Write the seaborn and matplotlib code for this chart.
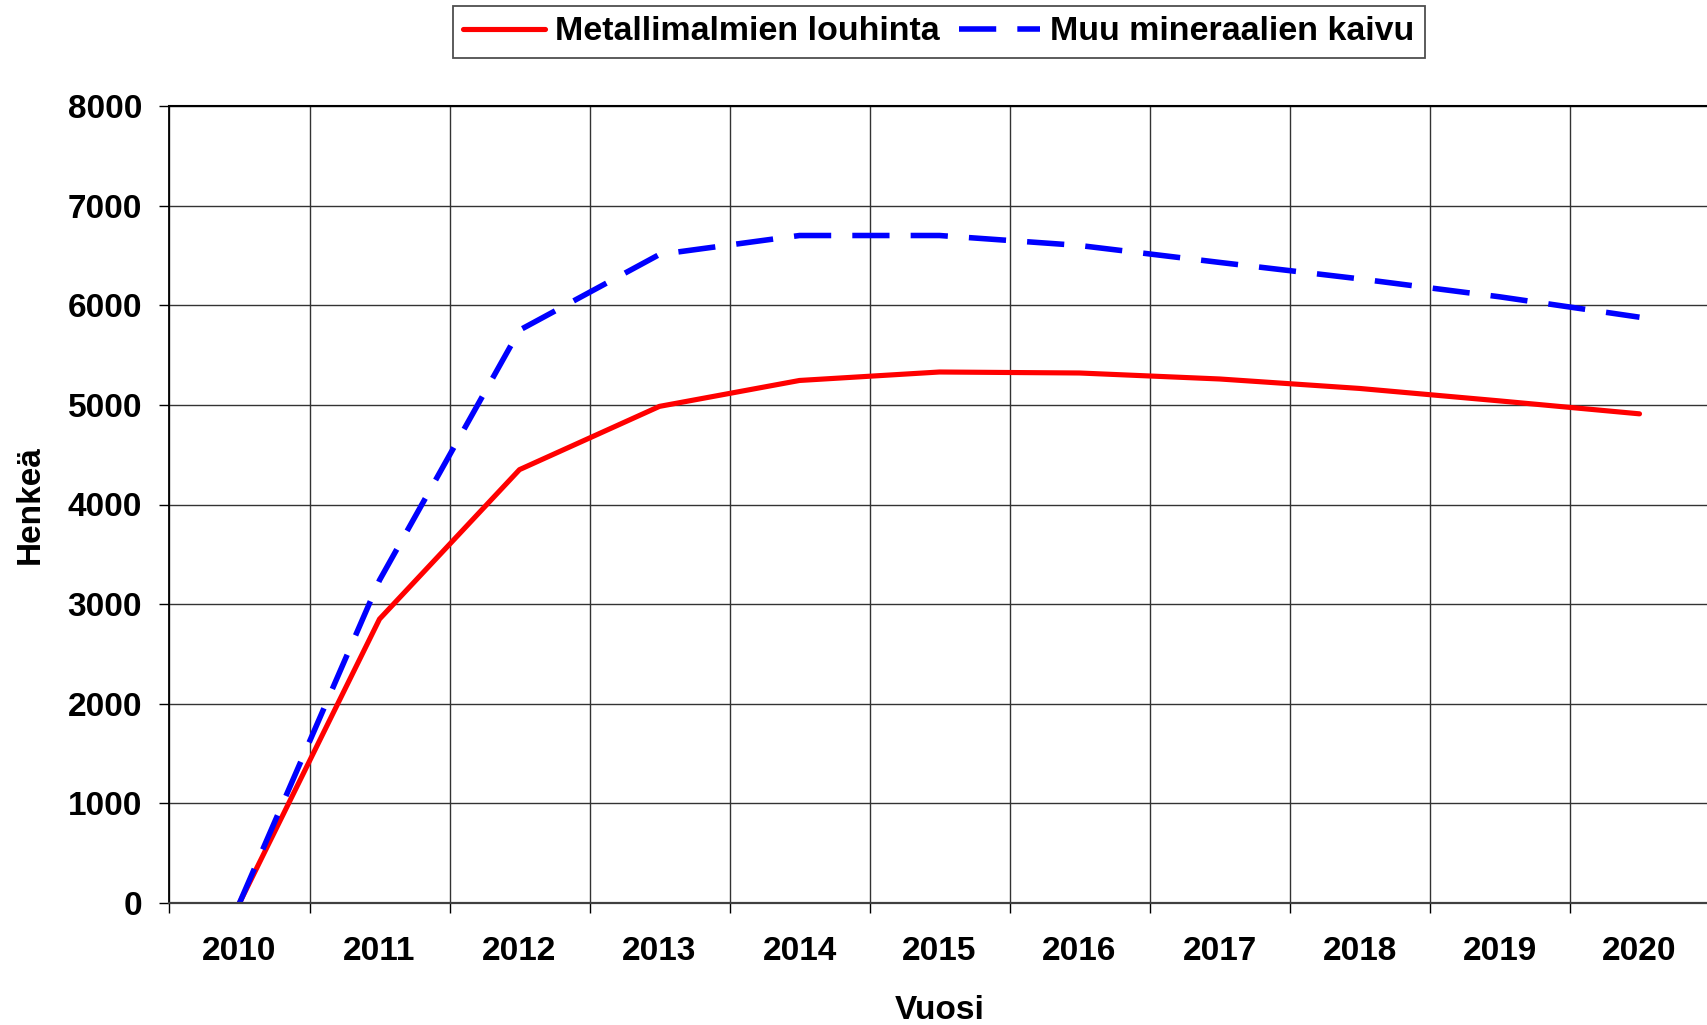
import numpy as np
import pandas as pd
import matplotlib
matplotlib.use("Agg")
import matplotlib.pyplot as plt
import seaborn as sns

# chart data
years = ["2010", "2011", "2012", "2013", "2014", "2015",
         "2016", "2017", "2018", "2019", "2020"]
metalli = [0, 2850, 4350, 4985, 5245, 5330, 5320, 5260, 5165, 5040, 4910]
muu = [0, 3240, 5750, 6510, 6700, 6700, 6600, 6430, 6265, 6085, 5880]
yticks = [0, 1000, 2000, 3000, 4000, 5000, 6000, 7000, 8000]

label_metalli = "Metallimalmien louhinta"
label_muu = "Muu mineraalien kaivu"

df = pd.DataFrame({"Vuosi": years, "metalli": metalli, "muu": muu})

sns.set_theme(style="white")
plt.rcParams["font.family"] = ["Liberation Sans", "DejaVu Sans"]
plt.rcParams["font.weight"] = "bold"
plt.rcParams["text.color"] = "black"
plt.rcParams["axes.labelcolor"] = "black"

W, H = 1708, 1025
fig = plt.figure(figsize=(W / 100, H / 100), dpi=100)
# axes placed in pixels: left 169.5, right 1709.5, y=0 at 903, y=8000 at 106
ax = fig.add_axes([169.5 / W, (H - 903) / H, 1540 / W, 797 / H])

sns.lineplot(data=df, x="Vuosi", y="metalli", ax=ax, color="#ff0000",
             linewidth=3.7, solid_capstyle="round", label=label_metalli)
sns.lineplot(data=df, x="Vuosi", y="muu", ax=ax, color="#0000ff",
             linewidth=4.0, linestyle=(0, (6.7, 3.8)), dash_capstyle="butt",
             label=label_muu)

ax.set_xlim(-0.5, len(years) - 0.5)
ax.set_ylim(0, 8000)
ax.set_yticks(yticks)
ax.set_yticklabels([str(v) for v in yticks])

# category labels at cell centres, ticks + gridlines at the cell boundaries
ax.set_xticks(np.arange(len(years)))
ax.set_xticklabels(years)
ax.set_xticks(np.arange(-0.5, len(years) + 0.5, 1), minor=True)
ax.tick_params(axis="x", which="major", length=0, pad=24, labelsize=24)
ax.tick_params(axis="x", which="minor", length=7.2, width=1.0,
               color="#000000", direction="out", bottom=True)
ax.tick_params(axis="y", which="major", length=7.2, width=1.0,
               color="#000000", direction="out", left=True, pad=12.5,
               labelsize=24)
for lab in ax.get_xticklabels() + ax.get_yticklabels():
    lab.set_fontweight("bold")
    lab.set_color("black")

ax.grid(False)
ax.grid(True, which="minor", axis="x", color="#333333", linewidth=1.0)
ax.grid(True, which="major", axis="y", color="#333333", linewidth=1.0)
ax.set_axisbelow(True)

ax.spines["left"].set_color("black")
ax.spines["left"].set_linewidth(1.3)
ax.spines["top"].set_color("black")
ax.spines["top"].set_linewidth(1.5)
ax.spines["bottom"].set_color("#404040")
ax.spines["bottom"].set_linewidth(1.6)
ax.spines["right"].set_visible(False)

ax.set_xlabel("Vuosi", fontsize=24, fontweight="bold", color="black")
ax.xaxis.set_label_coords(0.5, -0.135)
ax.xaxis.label.set_verticalalignment("center")
ax.set_ylabel("Henkeä", fontsize=24, fontweight="bold", color="black")
ax.yaxis.set_label_coords((30 - 169.5) / 1540, 0.5)
ax.yaxis.label.set_verticalalignment("center")

handles, labels = ax.get_legend_handles_labels()
if ax.get_legend() is not None:
    ax.get_legend().remove()
leg = fig.legend(handles, labels, loc="center", ncol=2,
                 bbox_to_anchor=(939 / W, 1 - 32 / H),
                 prop={"family": ["Liberation Sans", "DejaVu Sans"],
                       "weight": "bold", "size": 24.5},
                 frameon=True, fancybox=False, edgecolor="#222222",
                 handlelength=2.4, handletextpad=0.3, columnspacing=0.55,
                 borderpad=0.3, borderaxespad=0)
leg.get_frame().set_linewidth(1.3)
for t in leg.get_texts():
    t.set_color("black")

fig.savefig("out.png", dpi=100, facecolor="white")
